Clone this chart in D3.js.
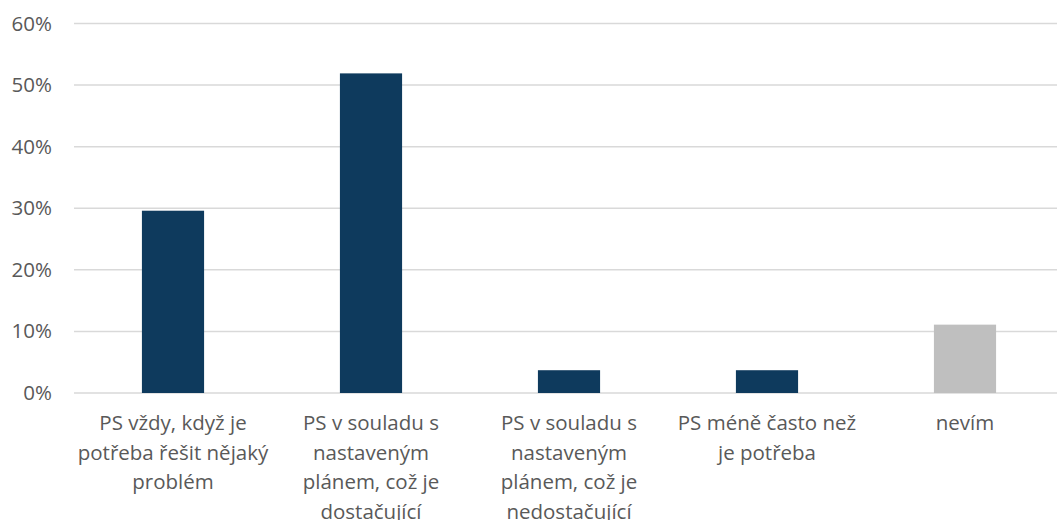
<!DOCTYPE html>
<html>
<head>
<meta charset="utf-8">
<script src="https://cdn.jsdelivr.net/npm/d3@7"></script>
<style>
  html, body { margin: 0; padding: 0; background: #fff; }
  svg { display: block; overflow: hidden; }
  text { font-family: "Open Sans", sans-serif; fill: #595959; }
</style>
</head>
<body>
<svg id="chart" width="1057" height="520"></svg>
<script>
// data
var categories = [
  "PS vždy, když je potřeba řešit nějaký problém",
  "PS v souladu s nastaveným plánem, což je dostačující",
  "PS v souladu s nastaveným plánem, což je nedostačující",
  "PS méně často než je potřeba",
  "nevím"
];
var labelLines = [
  ["PS vždy, když je", "potřeba řešit nějaký", "problém"],
  ["PS v souladu s", "nastaveným", "plánem, což je", "dostačující"],
  ["PS v souladu s", "nastaveným", "plánem, což je", "nedostačující"],
  ["PS méně často než", "je potřeba"],
  ["nevím"]
];
var values = [0.296, 0.519, 0.037, 0.037, 0.111];
var barColors = ["#0e3a5d", "#0e3a5d", "#0e3a5d", "#0e3a5d", "#bfbfbf"];
var yTicks = [0, 0.1, 0.2, 0.3, 0.4, 0.5, 0.6];

var svg = d3.select("#chart");
var mLeft = 74, mRight = 1064, mTop = 23.5, mBottom = 393;

var x = d3.scaleBand().domain(categories).range([mLeft, mRight]).paddingInner(0.686).paddingOuter(0.343);
var y = d3.scaleLinear().domain([0, 0.6]).range([mBottom, mTop]);

// gridlines
svg.append("g").selectAll("line").data(yTicks).join("line")
  .attr("x1", mLeft).attr("x2", mRight)
  .attr("y1", function (d) { return y(d); }).attr("y2", function (d) { return y(d); })
  .attr("stroke", "#d9d9d9").attr("stroke-width", 1.5);

// y axis labels
var yAxis = d3.axisLeft(y).tickValues(yTicks).tickFormat(d3.format(".0%")).tickSize(0).tickPadding(22);
var ya = svg.append("g").attr("transform", "translate(" + mLeft + ",0)").call(yAxis);
ya.select(".domain").remove();
ya.selectAll("text").style("font-family", "'Open Sans', sans-serif").style("font-size", "20.5px").attr("fill", "#595959");

// bars
svg.append("g").selectAll("rect").data(values).join("rect")
  .attr("x", function (d, i) { return x(categories[i]); })
  .attr("width", x.bandwidth())
  .attr("y", function (d) { return y(d); })
  .attr("height", function (d) { return y(0) - y(d); })
  .attr("fill", function (d, i) { return barColors[i]; });

// x labels
var xl = svg.append("g");
categories.forEach(function (c, i) {
  var t = xl.append("text")
    .attr("text-anchor", "middle")
    .attr("x", x(c) + x.bandwidth() / 2)
    .attr("y", 430)
    .style("font-size", "20.5px");
  labelLines[i].forEach(function (ln, j) {
    t.append("tspan").attr("x", x(c) + x.bandwidth() / 2).attr("dy", j === 0 ? 0 : 29.5).text(ln);
  });
});
</script>
</body>
</html>
